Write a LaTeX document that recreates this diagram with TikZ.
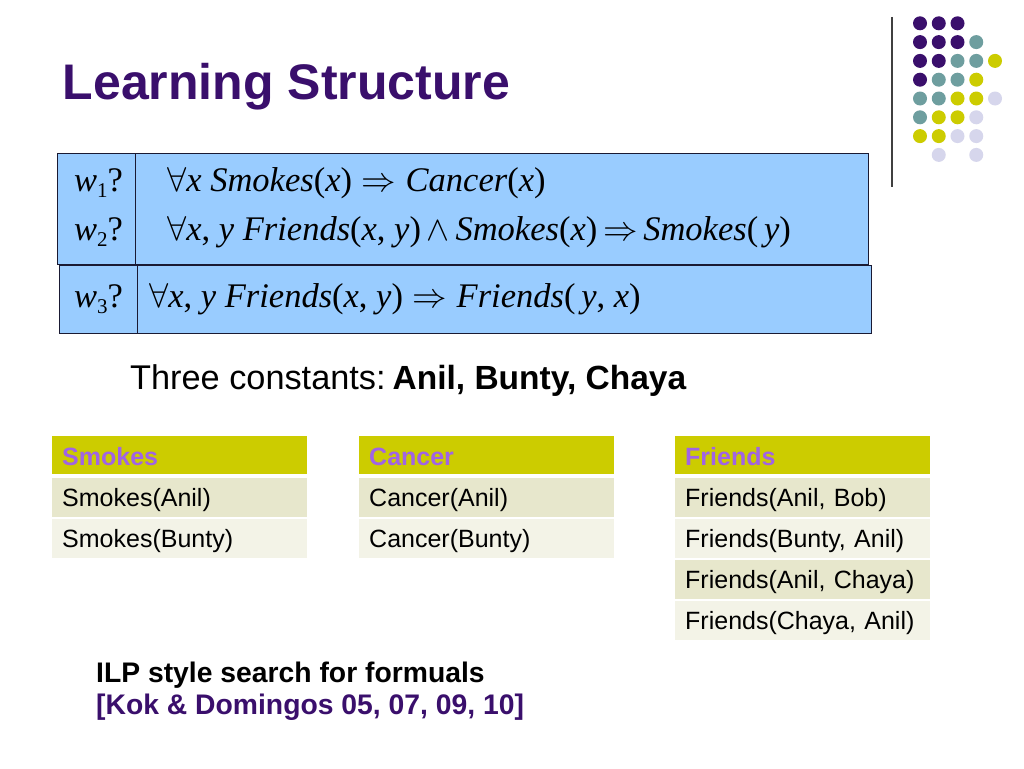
\RequirePackage{fix-cm}
\documentclass[tikz,border=0pt]{standalone}
\usepackage{fontspec}
\setmainfont{Liberation Sans}
\newfontfamily\tms{Liberation Serif}
\definecolor{dpurple}{HTML}{3A0F6C}
\definecolor{dteal}{HTML}{6E9E9F}
\definecolor{dyellow}{HTML}{CCCC00}
\definecolor{dlav}{HTML}{D6D6EC}
\definecolor{boxblue}{HTML}{99CCFF}
\definecolor{boxline}{HTML}{1A1A33}
\definecolor{hdrtext}{HTML}{A064E4}
\definecolor{rowdark}{HTML}{E7E7CC}
\definecolor{rowlight}{HTML}{F3F3E7}
\newcommand{\iv}[1]{{\itshape #1}}
\newcommand{\fsz}[1]{\fontsize{#1}{#1}\selectfont}
\newcommand{\wq}[1]{{\tms\fsz{34.5}\iv{w}\raisebox{-6.5pt}{\fsz{21}#1}?}}
\begin{document}
\begin{tikzpicture}[x=1pt,y=-1pt,
  dot/.style={circle,minimum size=14pt,inner sep=0pt,draw=none},
  fbox/.style={draw=boxline,line width=1pt,fill=boxblue,anchor=north west,inner sep=0pt},
  hdr/.style={fill=dyellow,anchor=north west,minimum width=255pt,minimum height=38pt,text width=235pt,inner xsep=10pt,inner ysep=0pt,align=left,font=\fsz{25}\bfseries,text=hdrtext,text height=20pt,text depth=0pt},
  rowd/.style={fill=rowdark,anchor=north west,minimum width=255pt,minimum height=39pt,text width=235pt,inner xsep=10pt,inner ysep=0pt,align=left,font=\fsz{25},text height=17pt,text depth=0pt},
  rowl/.style={rowd,fill=rowlight},
  ftext/.style={anchor=base west,inner sep=0pt,font=\tms\fsz{34.5}}
]
\useasboundingbox (0,0) rectangle (1024,768);
\fill[white] (0,0) rectangle (1024,768);

% decorative dots
\foreach \c/\r/\col [count=\i] in {
  0/0/dpurple,1/0/dpurple,2/0/dpurple,
  0/1/dpurple,1/1/dpurple,2/1/dpurple,3/1/dteal,
  0/2/dpurple,1/2/dpurple,2/2/dteal,3/2/dteal,4/2/dyellow,
  0/3/dpurple,1/3/dteal,2/3/dteal,3/3/dyellow,
  0/4/dteal,1/4/dteal,2/4/dyellow,3/4/dyellow,4/4/dlav,
  0/5/dteal,1/5/dyellow,2/5/dyellow,3/5/dlav,
  0/6/dyellow,1/6/dyellow,2/6/dlav,3/6/dlav,
  1/7/dlav,3/7/dlav}
  \node[dot,fill=\col] (dot\i) at ({920+18.75*\c},{23.3+18.8*\r}) {};
\coordinate (vtop) at (892,17);
\coordinate (vbot) at (892,187);
\draw[line width=1.2pt,color=black!75] (vtop) -- (vbot);

% title
\node[anchor=base west,inner sep=0pt,font=\fsz{50}\bfseries,text=dpurple] (title) at (62.5,99.5) {Learning Structure};

% formula boxes
\node[fbox,minimum width=78pt,minimum height=111pt] (b1l) at (57,153) {};
\node[fbox,minimum width=733pt,minimum height=111pt] (b1r) at (135,153) {};
\node[fbox,minimum width=78pt,minimum height=68pt] (b2l) at (59,265) {};
\node[fbox,minimum width=734pt,minimum height=68pt] (b2r) at (137,265) {};

\node[ftext] (w1) at (74,191) {\wq{1}};
\node[ftext] (w2) at (74,240) {\wq{2}};
\node[ftext] (w3) at (74,307) {\wq{3}};

\node[ftext] (f1) at (167,191) {$\forall$\iv{x} \iv{Smokes}(\iv{x})\;$\Rightarrow$\;\iv{Cancer}(\iv{x})};
\node[ftext] (f2) at (167,240) {$\forall$\iv{x}, \iv{y} \iv{Friends}(\iv{x}, \iv{y})\,$\wedge$\,\iv{Smokes}(\iv{x})\,$\Rightarrow$\,\iv{Smokes}(\,\iv{y})};
\node[ftext] (f3) at (149,307) {$\forall$\iv{x}, \iv{y} \iv{Friends}(\iv{x}, \iv{y})\;$\Rightarrow$\;\iv{Friends}(\,\iv{y}, \iv{x})};

% constants line
\node[anchor=base west,inner sep=0pt,font=\fsz{34.3}] (consts) at (130,389) {Three constants:\hspace{7pt}{\fsz{33.5}\bfseries Anil, Bunty, Chaya}};

% tables
\node[hdr] (sh) at (52,436) {Smokes};
\node[rowd] (s1) at (52,478) {Smokes(Anil)};
\node[rowl] (s2) at (52,519) {Smokes(Bunty)};

\node[hdr] (ch) at (359,436) {Cancer};
\node[rowd] (c1) at (359,478) {Cancer(Anil)};
\node[rowl] (c2) at (359,519) {Cancer(Bunty)};

\node[hdr] (frh) at (675,436) {Friends};
\node[rowd] (fr1) at (675,478) {Friends(Anil, Bob)};
\node[rowl] (fr2) at (675,519) {Friends(Bunty, Anil)};
\node[rowd] (fr3) at (675,560) {Friends(Anil, Chaya)};
\node[rowl] (fr4) at (675,601) {Friends(Chaya, Anil)};

% bottom text
\node[anchor=base west,inner sep=0pt,font=\fsz{28.3}\bfseries] (ilp) at (96,682) {ILP style search for formuals};
\node[anchor=base west,inner sep=0pt,font=\fsz{28.3}\bfseries,text=dpurple] (kok) at (96,714) {[Kok \& Domingos 05, 07, 09, 10]};
\end{tikzpicture}
\end{document}
